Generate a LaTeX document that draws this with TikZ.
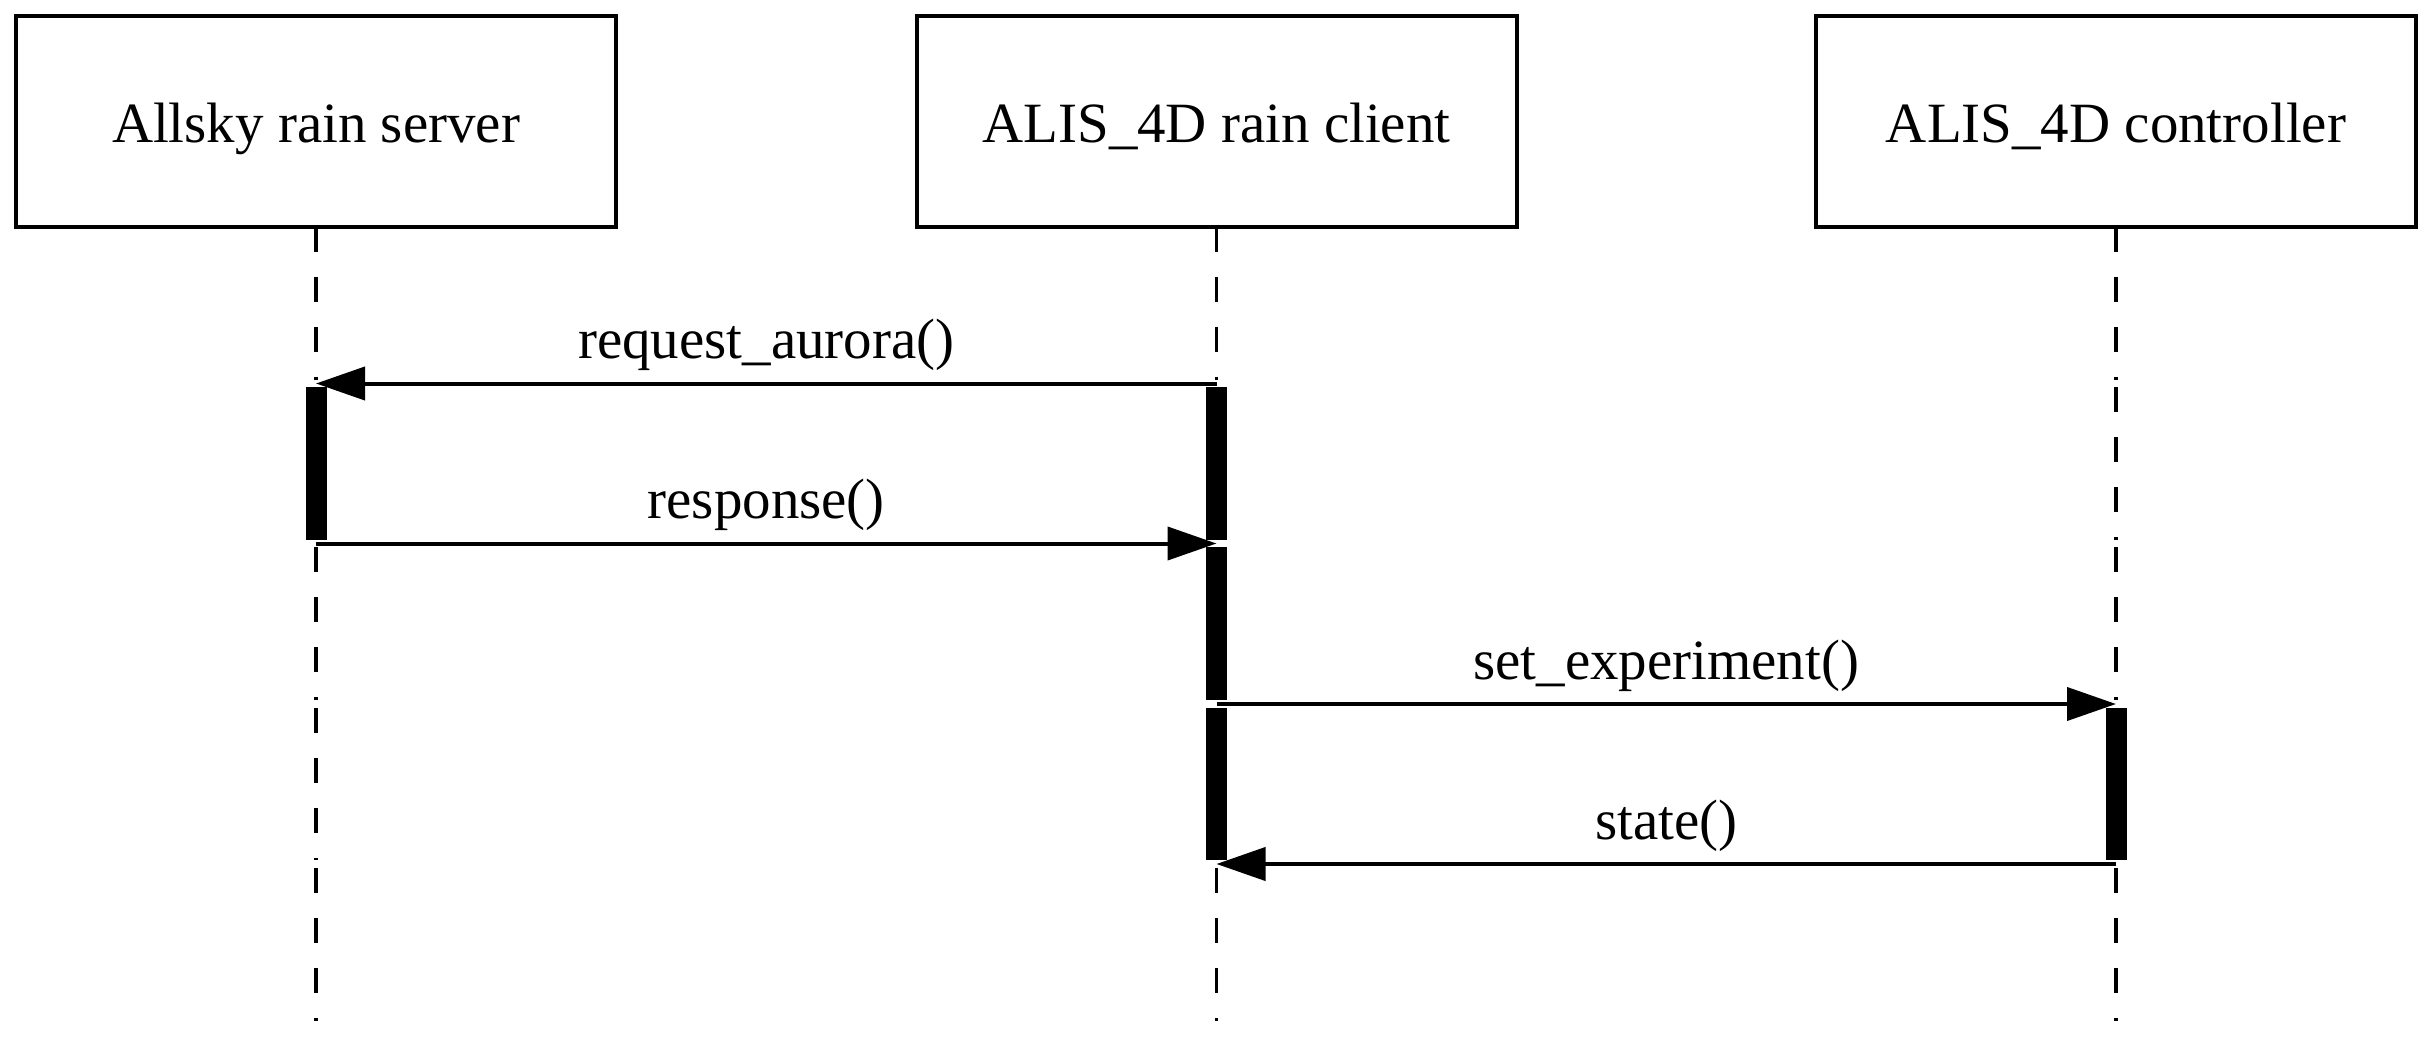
\documentclass[tikz,border=0pt]{standalone}
\usepackage{fontspec}
\setmainfont{Liberation Serif}
\usetikzlibrary{arrows.meta}
\begin{document}
\begin{tikzpicture}[x=0.1mm,y=-0.1mm,
  txt/.style={font=\fontsize{16.2}{19}\selectfont},
  actor/.style={txt,draw,line width=0.4mm,minimum width=60mm,minimum height=21.1mm,inner sep=0pt,text height=5.6mm,text depth=1.4mm},
  life/.style={line width=0.35mm,dash pattern=on 2.5mm off 2.5mm},
  actbar/.style={line width=2.1mm},
  msg/.style={line width=0.4mm,-{Triangle[length=4.9mm,width=3.3mm]}},
  lbl/.style={txt,midway,anchor=base,yshift=2.5mm,inner sep=0pt}]
\useasboundingbox (0,0) rectangle (2433,1044);
\node[actor] (srv) at (316,121) {Allsky rain server};
\node[actor] (cli) at (1216.5,121) {ALIS\_4D rain client};
\node[actor] (ctl) at (2116,121) {ALIS\_4D controller};
% lifelines, drawn row by row
\foreach \n in {srv,cli,ctl}{
  \foreach \s/\e in {226.5/380,387/540,547/700,708/860,868/1021}{
    \draw[life] (\n |- 0,\s) -- (\n |- 0,\e);
  }
}
% activation bars
\coordinate (a1t) at (316,387);  \coordinate (a1b) at (316,540);
\coordinate (a2t) at (1216.5,387); \coordinate (a2b) at (1216.5,540);
\coordinate (a3t) at (1216.5,547); \coordinate (a3b) at (1216.5,700);
\coordinate (a4t) at (1216.5,708); \coordinate (a4b) at (1216.5,860);
\coordinate (a5t) at (2116,708); \coordinate (a5b) at (2116,860);
\draw[actbar] (a1t) -- (a1b);
\draw[actbar] (a2t) -- (a2b);
\draw[actbar] (a3t) -- (a3b);
\draw[actbar] (a4t) -- (a4b);
\draw[actbar] (a5t) -- (a5b);
% messages
\coordinate (m1) at (0,383.5);
\coordinate (m2) at (0,543.5);
\coordinate (m3) at (0,704);
\coordinate (m4) at (0,864);
\draw[msg] (cli |- m1) -- node[lbl] {request\_aurora()} (srv |- m1);
\draw[msg] (srv |- m2) -- node[lbl] {response()} (cli |- m2);
\draw[msg] (cli |- m3) -- node[lbl] {set\_experiment()} (ctl |- m3);
\draw[msg] (ctl |- m4) -- node[lbl] {state()} (cli |- m4);
\end{tikzpicture}
\end{document}
